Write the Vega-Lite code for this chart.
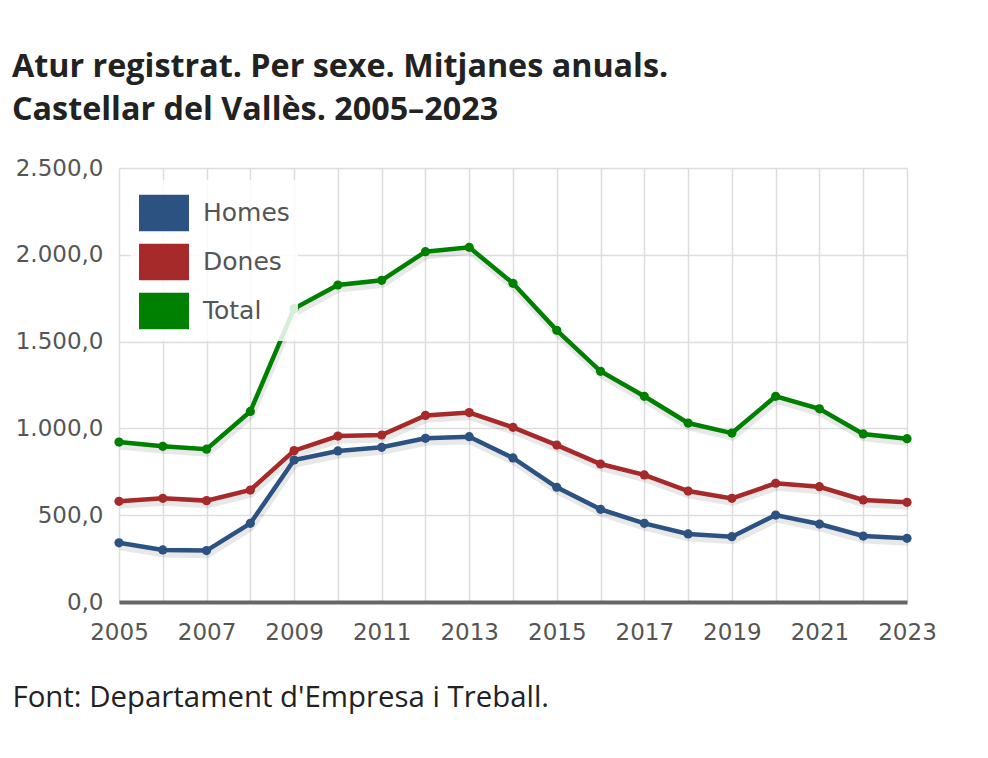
{
  "$schema": "https://vega.github.io/schema/vega-lite/v6.json",
  "width": 788,
  "height": 434,
  "autosize": {"type": "none"},
  "padding": {"left": 119, "top": 168, "right": 81, "bottom": 156},
  "background": "white",
  "title": {
    "text": ["Atur registrat. Per sexe. Mitjanes anuals.", "Castellar del Vallès. 2005–2023"],
    "anchor": "start",
    "frame": "group",
    "orient": "top",
    "baseline": "alphabetic",
    "dx": -107,
    "dy": 88,
    "offset": 93,
    "font": "Open Sans",
    "fontSize": 32.3,
    "fontWeight": "bold",
    "color": "#222222",
    "lineHeight": 43
  },
  "data": {
    "values": [
      {"year": 2005, "serie": "Homes", "value": 341},
      {"year": 2006, "serie": "Homes", "value": 300},
      {"year": 2007, "serie": "Homes", "value": 296},
      {"year": 2008, "serie": "Homes", "value": 453},
      {"year": 2009, "serie": "Homes", "value": 818},
      {"year": 2010, "serie": "Homes", "value": 870},
      {"year": 2011, "serie": "Homes", "value": 891},
      {"year": 2012, "serie": "Homes", "value": 943},
      {"year": 2013, "serie": "Homes", "value": 952},
      {"year": 2014, "serie": "Homes", "value": 830},
      {"year": 2015, "serie": "Homes", "value": 661},
      {"year": 2016, "serie": "Homes", "value": 534},
      {"year": 2017, "serie": "Homes", "value": 453},
      {"year": 2018, "serie": "Homes", "value": 392},
      {"year": 2019, "serie": "Homes", "value": 376},
      {"year": 2020, "serie": "Homes", "value": 501},
      {"year": 2021, "serie": "Homes", "value": 449},
      {"year": 2022, "serie": "Homes", "value": 380},
      {"year": 2023, "serie": "Homes", "value": 367},
      {"year": 2005, "serie": "Dones", "value": 580},
      {"year": 2006, "serie": "Dones", "value": 597},
      {"year": 2007, "serie": "Dones", "value": 584},
      {"year": 2008, "serie": "Dones", "value": 645},
      {"year": 2009, "serie": "Dones", "value": 872},
      {"year": 2010, "serie": "Dones", "value": 956},
      {"year": 2011, "serie": "Dones", "value": 962},
      {"year": 2012, "serie": "Dones", "value": 1075},
      {"year": 2013, "serie": "Dones", "value": 1091},
      {"year": 2014, "serie": "Dones", "value": 1006},
      {"year": 2015, "serie": "Dones", "value": 904},
      {"year": 2016, "serie": "Dones", "value": 795},
      {"year": 2017, "serie": "Dones", "value": 732},
      {"year": 2018, "serie": "Dones", "value": 639},
      {"year": 2019, "serie": "Dones", "value": 597},
      {"year": 2020, "serie": "Dones", "value": 684},
      {"year": 2021, "serie": "Dones", "value": 664},
      {"year": 2022, "serie": "Dones", "value": 588},
      {"year": 2023, "serie": "Dones", "value": 574},
      {"year": 2005, "serie": "Total", "value": 921},
      {"year": 2006, "serie": "Total", "value": 897},
      {"year": 2007, "serie": "Total", "value": 880},
      {"year": 2008, "serie": "Total", "value": 1098},
      {"year": 2009, "serie": "Total", "value": 1690},
      {"year": 2010, "serie": "Total", "value": 1826},
      {"year": 2011, "serie": "Total", "value": 1853},
      {"year": 2012, "serie": "Total", "value": 2018},
      {"year": 2013, "serie": "Total", "value": 2043},
      {"year": 2014, "serie": "Total", "value": 1836},
      {"year": 2015, "serie": "Total", "value": 1565},
      {"year": 2016, "serie": "Total", "value": 1329},
      {"year": 2017, "serie": "Total", "value": 1185},
      {"year": 2018, "serie": "Total", "value": 1031},
      {"year": 2019, "serie": "Total", "value": 973},
      {"year": 2020, "serie": "Total", "value": 1185},
      {"year": 2021, "serie": "Total", "value": 1113},
      {"year": 2022, "serie": "Total", "value": 968},
      {"year": 2023, "serie": "Total", "value": 941}
    ]
  },
  "encoding": {
    "x": {
      "field": "year",
      "type": "quantitative",
      "scale": {"domain": [2005, 2023], "nice": false, "zero": false},
      "axis": {
        "values": [2005, 2006, 2007, 2008, 2009, 2010, 2011, 2012, 2013, 2014, 2015, 2016, 2017, 2018, 2019, 2020, 2021, 2022, 2023],
        "format": "d",
        "labelExpr": "datum.value % 2 == 1 ? datum.label : ''",
        "labelFlush": false,
        "grid": true,
        "gridColor": "#dddddd",
        "gridWidth": 1.5,
        "ticks": false,
        "domain": true,
        "domainColor": "#666666",
        "domainWidth": 4,
        "labelFont": "DejaVu Sans",
        "labelFontSize": 23,
        "labelColor": "#555555",
        "labelPadding": 19,
        "labelOverlap": false,
        "title": "Font: Departament d'Empresa i Treball.",
        "titleFont": "Open Sans",
        "titleFontSize": 29.4,
        "titleFontWeight": "normal",
        "titleColor": "#222222",
        "titleX": -107,
        "titleY": 104,
        "titleAlign": "left",
        "titleAnchor": "start",
        "titleBaseline": "alphabetic"
      }
    },
    "y": {
      "field": "value",
      "type": "quantitative",
      "scale": {"domain": [0, 2500], "nice": false},
      "axis": {
        "values": [0, 500, 1000, 1500, 2000, 2500],
        "format": ",.1f",
        "grid": true,
        "gridColor": "#dddddd",
        "gridWidth": 1.5,
        "ticks": false,
        "domain": false,
        "labelFont": "DejaVu Sans",
        "labelFontSize": 23,
        "labelColor": "#555555",
        "labelPadding": 16,
        "title": null
      }
    }
  },
  "layer": [
    {
      "mark": {"type": "line", "strokeWidth": 7, "color": "#000000", "opacity": 0.09, "yOffset": 4, "xOffset": 1},
      "encoding": {"detail": {"field": "serie"}}
    },
    {
      "mark": {"type": "line", "strokeWidth": 4.5},
      "encoding": {
        "color": {
          "field": "serie",
          "type": "nominal",
          "scale": {"domain": ["Homes", "Dones", "Total"], "range": ["#2c5282", "#a62a2a", "#008000"]},
          "legend": {
            "orient": "top-left",
            "offset": 12,
            "title": null,
            "padding": 8,
            "fillColor": "rgba(255,255,255,0.85)",
            "symbolType": "M-1,-0.72L1,-0.72L1,0.72L-1,0.72Z",
            "symbolSize": 2300,
            "symbolOpacity": 1,
            "symbolStrokeColor": "#c8c8c8",
            "symbolStrokeWidth": 2,
            "labelFont": "DejaVu Sans",
            "labelFontSize": 25,
            "labelColor": "#555555",
            "labelOffset": 14,
            "rowPadding": 2,
            "labelLimit": 300
          }
        }
      }
    },
    {
      "mark": {"type": "point", "filled": true, "size": 85, "opacity": 1},
      "encoding": {
        "color": {"field": "serie", "type": "nominal", "legend": null}
      }
    }
  ],
  "config": {
    "view": {"stroke": null},
    "locale": {"number": {"decimal": ",", "thousands": ".", "grouping": [3], "currency": ["", " €"]}}
  }
}
